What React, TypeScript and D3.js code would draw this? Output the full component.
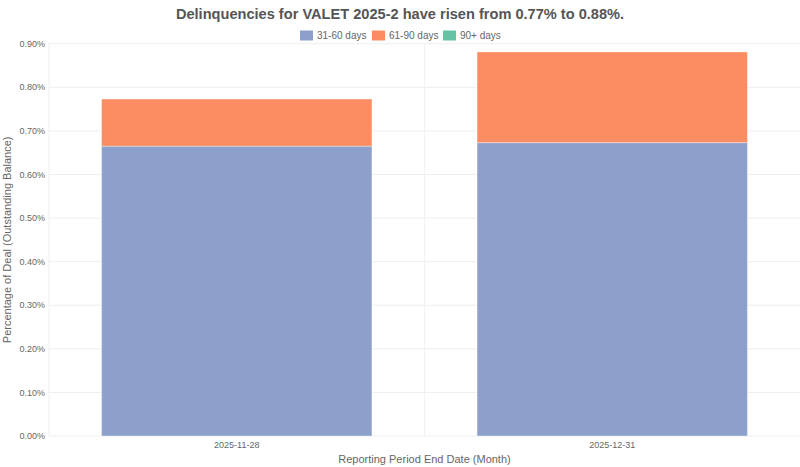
import React from "react";
import * as d3 from "d3";

const categories = ["2025-11-28", "2025-12-31"];
const seriesNames = ["31-60 days", "61-90 days", "90+ days"];
const seriesColors = ["#8da0cb", "#fc8d62", "#66c2a5"];
const s3160 = [0.665, 0.673];
const s6190 = [0.108, 0.208];
const s90p = [0, 0];
const yTicks = [0, 0.1, 0.2, 0.3, 0.4, 0.5, 0.6, 0.7, 0.8, 0.9];

const W = 800;
const H = 467;
const M = { left: 49, right: 0, top: 43.7, bottom: 31 };

export default function App() {
  const x = d3
    .scaleBand<string>()
    .domain(categories)
    .range([M.left, W - M.right])
    .paddingInner(0)
    .paddingOuter(0);
  const y = d3.scaleLinear().domain([0, 0.9]).range([H - M.bottom, M.top]);
  const rows = categories.map((c, i) => ({
    cat: c,
    "31-60 days": s3160[i],
    "61-90 days": s6190[i],
    "90+ days": s90p[i],
  }));
  const stack = d3.stack<any>().keys(seriesNames)(rows);
  const bw = x.bandwidth() * 0.72;
  const font = "Liberation Sans, Arial, sans-serif";
  const legendX = [300, 372, 443];

  return (
    <svg width={W} height={H} style={{ position: "absolute", left: 0, top: 0 }} fontFamily={font}>
      <rect width={W} height={H} fill="#fff" />
      <text x={400} y={19} textAnchor="middle" fontSize={14.6} fontWeight="bold" fill="#555">
        Delinquencies for VALET 2025-2 have risen from 0.77% to 0.88%.
      </text>
      {seriesNames.map((n, i) => (
        <g key={n}>
          <rect x={legendX[i]} y={30.5} width={13} height={10} fill={seriesColors[i]} />
          <text x={legendX[i] + 17} y={39} fontSize={10} fill="#666">
            {n}
          </text>
        </g>
      ))}
      {yTicks.map((t) => (
        <g key={t}>
          <line x1={M.left} x2={W} y1={y(t)} y2={y(t)} stroke="#eee" strokeWidth={1} />
          <text x={M.left - 4} y={y(t) + 3.2} textAnchor="end" fontSize={9} fill="#666">
            {d3.format(".2f")(t) + "%"}
          </text>
        </g>
      ))}
      <line x1={M.left} x2={M.left} y1={M.top} y2={y(0)} stroke="#eee" />
      <line x1={M.left + x.bandwidth()} x2={M.left + x.bandwidth()} y1={M.top} y2={y(0)} stroke="#f2f2f2" />
      {stack.map((layer, si) =>
        layer.map((d, ci) => {
          const h = y(d[0]) - y(d[1]);
          if (h <= 0) return null;
          const cx = (x(categories[ci]) as number) + x.bandwidth() / 2;
          return (
            <rect
              key={si + "-" + ci}
              x={cx - bw / 2}
              y={y(d[1])}
              width={bw}
              height={h}
              fill={seriesColors[si]}
              stroke="#fff"
              strokeOpacity={0.35}
              strokeWidth={1}
            />
          );
        })
      )}
      {categories.map((c) => (
        <text
          key={c}
          x={(x(c) as number) + x.bandwidth() / 2}
          y={448}
          textAnchor="middle"
          fontSize={9}
          fill="#666"
        >
          {c}
        </text>
      ))}
      <text x={424.5} y={463} textAnchor="middle" fontSize={11} fill="#666">
        Reporting Period End Date (Month)
      </text>
      <text
        transform={`translate(11, ${(M.top + y(0)) / 2}) rotate(-90)`}
        textAnchor="middle"
        fontSize={11}
        fill="#666"
      >
        Percentage of Deal (Outstanding Balance)
      </text>
    </svg>
  );
}
